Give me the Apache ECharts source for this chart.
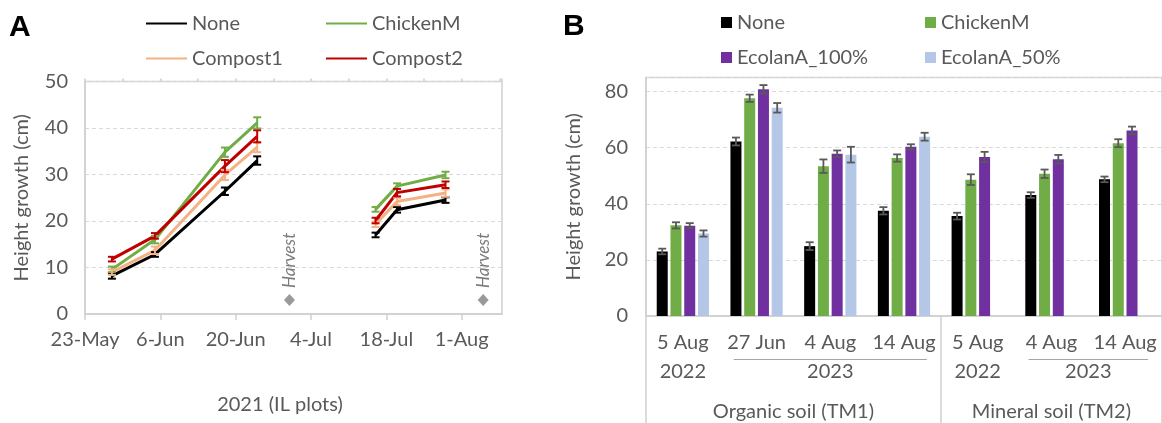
<!DOCTYPE html>
<html><head><meta charset="utf-8">
<script src="https://cdn.jsdelivr.net/npm/echarts@6/dist/echarts.min.js"></script>
<style>html,body{margin:0;padding:0;background:#fff}#c{width:1162px;height:423px}</style>
</head><body><div id="c"></div>
<script>
// ---------- Panel A data ----------
const aTickLabels = ['23-May','6-Jun','20-Jun','4-Jul','18-Jul','1-Aug'];
const aStart = '2021-05-23';
const aDates = ['2021-05-28','2021-06-05','2021-06-18','2021-06-24','2021-07-16','2021-07-20','2021-07-29'];
const aBreakAfter = 3;
const aNames = ['None','ChickenM','Compost1','Compost2'];
const aNone     = [8.2, 12.8, 26.4, 33.0, 17.0, 22.4, 24.5];
const aChickenM = [9.6, 16.0, 34.8, 41.1, 22.5, 27.5, 29.9];
const aCompost1 = [9.0, 13.7, 29.9, 35.9, 19.3, 24.2, 26.0];
const aCompost2 = [11.8, 16.8, 31.8, 38.2, 20.1, 26.1, 27.8];
const aNoneErr     = [0.6, 0.5, 0.8, 0.9, 0.5, 0.6, 0.6];
const aChickenMErr = [0.6, 0.8, 1.0, 1.2, 0.5, 0.6, 0.7];
const aCompost1Err = [0.6, 0.8, 1.1, 1.1, 0.6, 0.8, 0.8];
const aCompost2Err = [0.5, 0.6, 1.3, 1.3, 0.6, 0.8, 0.7];
const harvestDates = ['2021-06-30','2021-08-05'];
const harvestY = 3;
const harvestLabel = 'Harvest';
const aXName = '2021 (IL plots)';
const yName = 'Height growth (cm)';

// ---------- Panel B data ----------
const bCats = ['5 Aug','27 Jun','4 Aug','14 Aug','5 Aug','4 Aug','14 Aug'];
const bYearGroups = [
  {label:'2022', from:0, to:0, line:false},
  {label:'2023', from:1, to:3, line:true},
  {label:'2022', from:4, to:4, line:false},
  {label:'2023', from:5, to:6, line:true}
];
const bSoilGroups = [
  {label:'Organic soil (TM1)', from:0, to:3},
  {label:'Mineral soil (TM2)', from:4, to:6}
];
const bNames = ['None','ChickenM','EcolanA_100%','EcolanA_50%'];
const bNone     = [23.0, 62.2, 24.9, 37.5, 35.6, 43.1, 48.7];
const bChickenM = [32.3, 77.6, 53.4, 56.3, 48.6, 50.7, 61.6];
const bEcolan100 = [32.2, 80.8, 57.8, 60.3, 56.7, 55.9, 66.1];
const bEcolan50  = [29.4, 74.2, 57.5, 63.9, null, null, null];
const bNoneErr     = [1.0, 1.4, 1.4, 1.3, 1.2, 1.0, 1.0];
const bChickenMErr = [1.1, 1.3, 2.4, 1.3, 1.9, 1.5, 1.4];
const bEcolan100Err = [0.9, 1.5, 1.2, 0.9, 1.8, 1.5, 1.4];
const bEcolan50Err  = [1.1, 1.7, 2.8, 1.4, null, null, null];

// ---------- styling ----------
const FONT = 'Lato';
const TXT = '#595959';
const GRIDC = '#d0d0d0';
const aColors = ['#000000','#70ad47','#f4b183','#c00000'];
const bColors = ['#000000','#70ad47','#7030a0','#b4c7e7'];
const BAR_W = 11, BAR_GAP = 0.25;

function dayOff(d){ return (Date.parse(d) - Date.parse(aStart)) / 86400000; }

const aVals = [aNone, aChickenM, aCompost1, aCompost2];
const aErrs = [aNoneErr, aChickenMErr, aCompost1Err, aCompost2Err];
const bVals = [bNone, bChickenM, bEcolan100, bEcolan50];
const bErrs = [bNoneErr, bChickenMErr, bEcolan100Err, bEcolan50Err];

const series = [];
aNames.forEach((n, k) => {
  const data = [];
  aDates.forEach((d, i) => {
    data.push([dayOff(d), aVals[k][i]]);
    if (i === aBreakAfter) data.push([dayOff(d), '-']);
  });
  series.push({
    type:'line', name:n, xAxisIndex:0, yAxisIndex:0, data,
    symbol:'none', connectNulls:false,
    lineStyle:{color:aColors[k], width:3}, itemStyle:{color:aColors[k]}, z:3
  });
});
aNames.forEach((n, k) => {
  const c = aColors[k];
  series.push({
    type:'custom', name:'errA'+k, xAxisIndex:0, yAxisIndex:0, z:4,
    data: aDates.map((d, i) => [dayOff(d), aVals[k][i], aErrs[k][i]]),
    renderItem:(p, api) => {
      const x = api.value(0), y = api.value(1), e = api.value(2);
      const t = api.coord([x, y + e]), b = api.coord([x, y - e]);
      const hw = 4, st = {stroke:c, lineWidth:2};
      return {type:'group', children:[
        {type:'line', shape:{x1:t[0], y1:t[1], x2:b[0], y2:b[1]}, style:st},
        {type:'line', shape:{x1:t[0]-hw, y1:t[1], x2:t[0]+hw, y2:t[1]}, style:st},
        {type:'line', shape:{x1:b[0]-hw, y1:b[1], x2:b[0]+hw, y2:b[1]}, style:st}
      ]};
    }
  });
});
series.push({
  type:'scatter', name:'harvest', xAxisIndex:0, yAxisIndex:0,
  data: harvestDates.map(d => [dayOff(d), harvestY]),
  symbol:'diamond', symbolSize:[11,12], itemStyle:{color:'#7f7f7f'},
  label:{show:true, formatter:harvestLabel, position:'top', distance:6, rotate:90,
    align:'left', verticalAlign:'middle', fontStyle:'italic', fontFamily:FONT, fontSize:17, color:TXT}
});
bNames.forEach((n, k) => {
  series.push({
    type:'bar', name:'B:'+n, xAxisIndex:1, yAxisIndex:1,
    data: bVals[k].map(v => v == null ? '-' : v),
    barWidth:BAR_W, barGap:(BAR_GAP*100)+'%',
    itemStyle:{color:bColors[k]}
  });
});
bNames.forEach((n, k) => {
  const off = (k - (bNames.length - 1) / 2) * BAR_W * (1 + BAR_GAP);
  series.push({
    type:'custom', name:'errB'+k, xAxisIndex:1, yAxisIndex:1, z:4,
    data: bVals[k].map((v, i) => v == null ? [i, '-', '-'] : [i, v, bErrs[k][i]]),
    encode:{x:0, y:1},
    renderItem:(p, api) => {
      const v = api.value(1);
      if (isNaN(v)) return null;
      const i = api.value(0), e = api.value(2);
      const t = api.coord([i, v + e]), b = api.coord([i, v - e]);
      const x = t[0] + off, hw = 4, st = {stroke:'#595959', lineWidth:1.8};
      return {type:'group', children:[
        {type:'line', shape:{x1:x, y1:t[1], x2:x, y2:b[1]}, style:st},
        {type:'line', shape:{x1:x-hw, y1:t[1], x2:x+hw, y2:t[1]}, style:st},
        {type:'line', shape:{x1:x-hw, y1:b[1], x2:x+hw, y2:b[1]}, style:st}
      ]};
    }
  });
});

const txt = {fontFamily:FONT, fontSize:20, color:TXT};
const option = {
  animation:false,
  textStyle:{fontFamily:FONT},
  legend:[
    {data:aNames, left:145, top:11, width:360, padding:0, itemWidth:41, itemHeight:14, itemGap:10,
     itemStyle:{opacity:0},
     textStyle:Object.assign({}, txt, {width:123, lineHeight:25})},
    {data:bNames.map(n => ({name:'B:'+n, icon:'rect'})), left:721, top:10, width:420, padding:0,
     itemWidth:11, itemHeight:11, itemGap:10, formatter:n => n.replace(/^B:/, ''),
     textStyle:Object.assign({}, txt, {width:178, lineHeight:25})}
  ],
  grid:[
    {left:85, top:81.5, width:417, height:232.5, show:true, borderColor:GRIDC, borderWidth:1.5, containLabel:false},
    {left:646, top:77.5, width:526, height:238.5, show:true, borderColor:GRIDC, borderWidth:1.5, containLabel:false}
  ],
  xAxis:[
    {type:'value', gridIndex:0, min:0, max:77.5, interval:14,
     axisLine:{show:true, lineStyle:{color:GRIDC, width:1.5}},
     axisTick:{show:true, length:6, lineStyle:{color:GRIDC, width:1.5}},
     splitLine:{show:false},
     axisLabel:Object.assign({}, txt, {margin:16, showMaxLabel:false,
       formatter:v => (v % 14 === 0 && aTickLabels[v/14] !== undefined) ? aTickLabels[v/14] : ''})},
    {type:'category', gridIndex:1, data:bCats,
     axisLine:{show:true, lineStyle:{color:GRIDC, width:1.5}},
     axisTick:{show:true, length:107, interval:(i) => i === 0 || i === 4, lineStyle:{color:GRIDC, width:1.5}},
     axisLabel:Object.assign({}, txt, {margin:17, interval:0})},
    {type:'value', gridIndex:0, min:0, max:77.5, interval:7,
     axisLine:{show:false}, axisLabel:{show:false}, splitLine:{show:false},
     axisTick:{show:true, length:3, lineStyle:{color:GRIDC, width:1.5}}}
  ],
  yAxis:[
    {type:'value', gridIndex:0, min:0, max:50, interval:10,
     name:yName, nameLocation:'middle', nameGap:53, nameTextStyle:txt,
     axisLine:{show:true, lineStyle:{color:GRIDC, width:1.5}}, axisTick:{show:false},
     splitLine:{show:true, lineStyle:{color:'#d9d9d9', type:[4,3], width:1}},
     axisLabel:Object.assign({}, txt, {margin:17})},
    {type:'value', gridIndex:1, min:0, max:85, interval:20,
     name:yName, nameLocation:'middle', nameGap:62, nameTextStyle:txt,
     axisLine:{show:true, lineStyle:{color:GRIDC, width:1.5}}, axisTick:{show:false},
     splitLine:{show:true, lineStyle:{color:'#d9d9d9', type:[4,3], width:1}},
     axisLabel:Object.assign({}, txt, {margin:18, formatter:v => v % 20 === 0 ? String(v) : ''})}
  ],
  series
};

const chart = echarts.init(document.getElementById('c'), null, {renderer:'canvas'});
chart.setOption(option);

// Multi-level category labels for panel B and other texts
const px = i => chart.convertToPixel({xAxisIndex:1}, i);
const band = px(1) - px(0);
const axisY = chart.convertToPixel({yAxisIndex:1}, 0);
const aAxisY = chart.convertToPixel({yAxisIndex:0}, 0);
const graphics = [];
bYearGroups.forEach(g => {
  const cx = (px(g.from) + px(g.to)) / 2;
  graphics.push({type:'text', x:cx, y:axisY + 56, style:{text:g.label, align:'center', verticalAlign:'middle', font:'20px ' + FONT, fill:TXT}});
  if (g.line) {
    const inset = 14;
    graphics.push({type:'line', shape:{x1:px(g.from) - band/2 + inset, y1:axisY + 43.5, x2:px(g.to) + band/2 - inset, y2:axisY + 43.5},
      style:{stroke:'#a6a6a6', lineWidth:1.2}});
  }
});
bSoilGroups.forEach(g => {
  const cx = (px(g.from) + px(g.to)) / 2;
  graphics.push({type:'text', x:cx, y:axisY + 96, style:{text:g.label, align:'center', verticalAlign:'middle', font:'20px ' + FONT, fill:TXT}});
});
graphics.push({type:'text', x:280, y:aAxisY + 91, style:{text:aXName, align:'center', verticalAlign:'middle', font:'20px ' + FONT, fill:TXT}});
graphics.push({type:'text', x:9, y:28, style:{text:'A', align:'left', verticalAlign:'middle', font:'bold 30px "Liberation Sans"', fill:'#000'}});
graphics.push({type:'text', x:563, y:27, style:{text:'B', align:'left', verticalAlign:'middle', font:'bold 30px "Liberation Sans"', fill:'#000'}});
chart.setOption({graphic:graphics});
</script>
</body></html>
